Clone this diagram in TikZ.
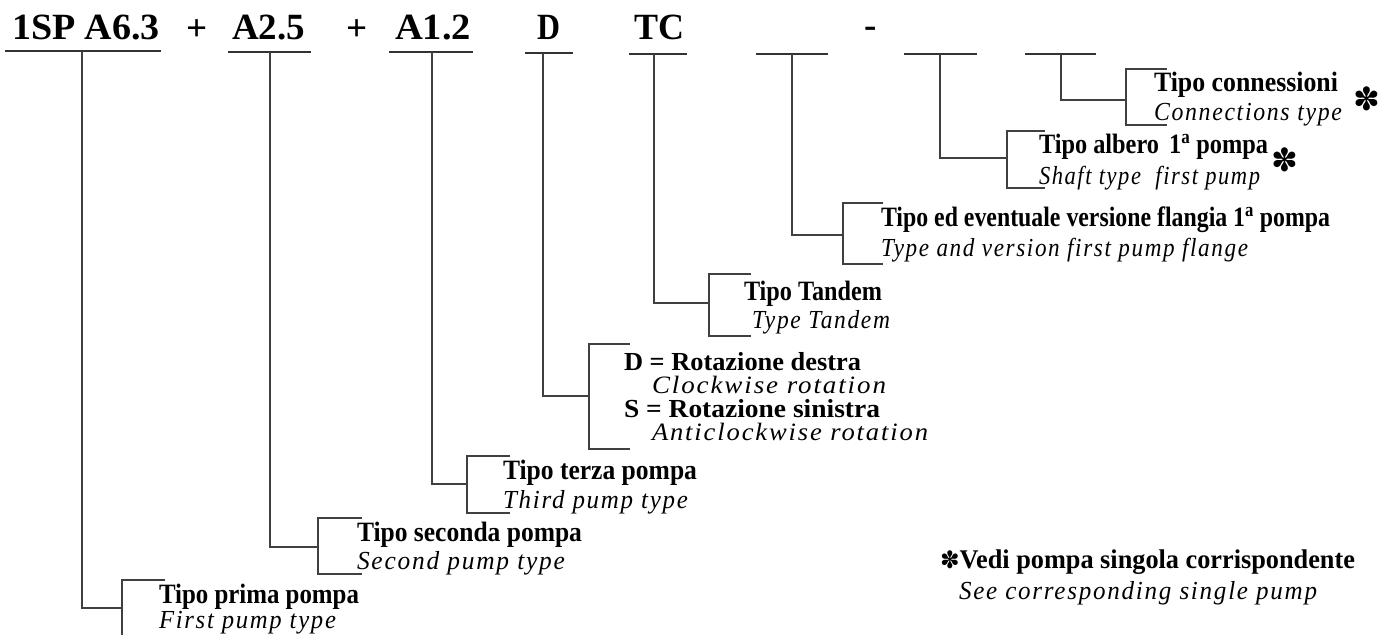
\documentclass[tikz,border=0pt]{standalone}
\usepackage{fontspec}
\usepackage{graphicx}
\setmainfont{Liberation Serif}
\newfontfamily\itsp{Liberation Serif}[LetterSpace=7]
\newfontfamily\dings{DejaVu Sans}
\newcommand\fw[2]{\resizebox{#1pt}{\height}{#2}}
\newcommand\bl[2]{\fw{#1}{\fontsize{28}{30}\selectfont\bfseries #2}}
\newcommand\il[2]{\fw{#1}{\fontsize{26}{30}\selectfont\itsp\itshape #2}}
\newcommand\bd[2]{\fw{#1}{\fontsize{26}{28}\selectfont\bfseries #2}}
\newcommand\id[2]{\fw{#1}{\fontsize{25}{28}\selectfont\itsp\itshape #2}}
\newcommand\astk{{\dings ✽}}
\begin{document}
\begin{tikzpicture}[x=1pt,y=-1pt,
  every node/.style={inner sep=0pt, outer sep=0pt, anchor=base west},
  lbl/.style={font=\fontsize{26}{30}\selectfont},
  code/.style={font=\fontsize{37}{40}\selectfont\bfseries},
  ln/.style={draw=black!75, line width=1.2pt},
  ul/.style={draw=black!80, line width=1.8pt},
  star/.style={anchor=center, font=\fontsize{32}{32}\selectfont}]
\useasboundingbox (0,0) rectangle (1388,634);

% top code
\node[code] (c1) at (12,40) {\fw{148}{1SP A6.3}};
\node[code, anchor=center] (p1) at (197,30) {+};
\node[code] (c2) at (232,40) {\fw{73}{A2.5}};
\node[code, anchor=center] (p2) at (357,30) {+};
\node[code] (c3) at (395,40) {\fw{76}{A1.2}};
\node[code] (c4) at (537,40) {\fw{23}{D}};
\node[code] (c5) at (634,40) {\fw{50}{TC}};
\node[code, anchor=center] (dash) at (871,32) {-};

% underlines
\draw[ul] (5,51) -- (161,51);
\draw[ul] (228,52) -- (311,52);
\draw[ul] (389,52) -- (473,52);
\draw[ul] (525,53) -- (573,53);
\draw[ul] (629,54) -- (687,54);
\draw[ul] (756,54) -- (828,54);
\draw[ul] (904,54) -- (977,54);
\draw[ul] (1025,54) -- (1096,54);

% coordinates: top of vertical and bracket joint
\coordinate (u1) at (82,51);   \coordinate (j1) at (122,608);
\coordinate (u2) at (270,52);  \coordinate (j2) at (318,547);
\coordinate (u3) at (432,52);  \coordinate (j3) at (467,484);
\coordinate (u4) at (543,53);  \coordinate (j4) at (589,396);
\coordinate (u5) at (654,54);  \coordinate (j5) at (709,303);
\coordinate (u6) at (792,54);  \coordinate (j6) at (843,235);
\coordinate (u7) at (940,54);  \coordinate (j7) at (1007,158);
\coordinate (u8) at (1061,54); \coordinate (j8) at (1126,100);

\foreach \i in {1,...,8} \draw[ln] (u\i) |- (j\i);

% brackets
\draw[ln] (165,580) -- (122,580) -- (122,640);
\draw[ln] (362,518) -- (318,518) -- (318,574) -- (362,574);
\draw[ln] (510,456) -- (467,456) -- (467,513) -- (510,513);
\draw[ln] (630,344) -- (589,344) -- (589,449) -- (630,449);
\draw[ln] (751,274) -- (709,274) -- (709,336) -- (751,336);
\draw[ln] (883,203) -- (843,203) -- (843,264) -- (883,264);
\draw[ln] (1045,131) -- (1007,131) -- (1007,188) -- (1045,188);
\draw[ln] (1167,69) -- (1126,69) -- (1126,125) -- (1167,125);

% labels
\node[lbl] (b1) at (159,603) {\bl{200}{Tipo prima pompa}};
\node[lbl] (i1) at (159,628) {\il{177}{First pump type}};
\node[lbl] (b2) at (357,541) {\bl{225}{Tipo seconda pompa}};
\node[lbl] (i2) at (357,569) {\il{208}{Second pump type}};
\node[lbl] (b3) at (503,479) {\bl{194}{Tipo terza pompa}};
\node[lbl] (i3) at (503,508) {\il{185}{Third pump type}};
\node[lbl] (b4a) at (624,370) {\bd{237}{D = Rotazione destra}};
\node[lbl] (i4a) at (652,393) {\id{234}{Clockwise rotation}};
\node[lbl] (b4b) at (624,417) {\bd{256}{S = Rotazione sinistra}};
\node[lbl] (i4b) at (652,440) {\id{276}{Anticlockwise rotation}};
\node[lbl] (b5) at (744,300) {\bl{138}{Tipo Tandem}};
\node[lbl] (i5) at (752,328) {\il{138}{Type Tandem}};
\node[lbl] (b6) at (881,226) {\bl{449}{Tipo ed eventuale versione flangia 1\textsuperscript{a} pompa}};
\node[lbl] (i6) at (881,256) {\il{367}{Type and version first pump flange}};
\node[lbl] (b7) at (1039,153) {\bl{229}{Tipo albero\, 1\textsuperscript{a} pompa}};
\node[lbl] (i7) at (1039,184) {\il{221}{Shaft type\ \ first pump}};
\node[star] (s7) at (1285,160) {\astk};
\node[lbl] (b8) at (1154,91) {\bl{184}{Tipo connessioni}};
\node[lbl] (i8) at (1154,120) {\il{188}{Connections type}};
\node[star] (s8) at (1367,99) {\astk};

% footnote
\node[lbl] (fb) at (940,568) {\fw{415}{{\dings\fontsize{24}{24}\selectfont ✽}\fontsize{27}{30}\selectfont\bfseries Vedi pompa singola corrispondente}};
\node[lbl] (fi) at (959,599) {\fw{358}{\fontsize{26}{30}\selectfont\itsp\itshape See corresponding single pump}};
\end{tikzpicture}
\end{document}
